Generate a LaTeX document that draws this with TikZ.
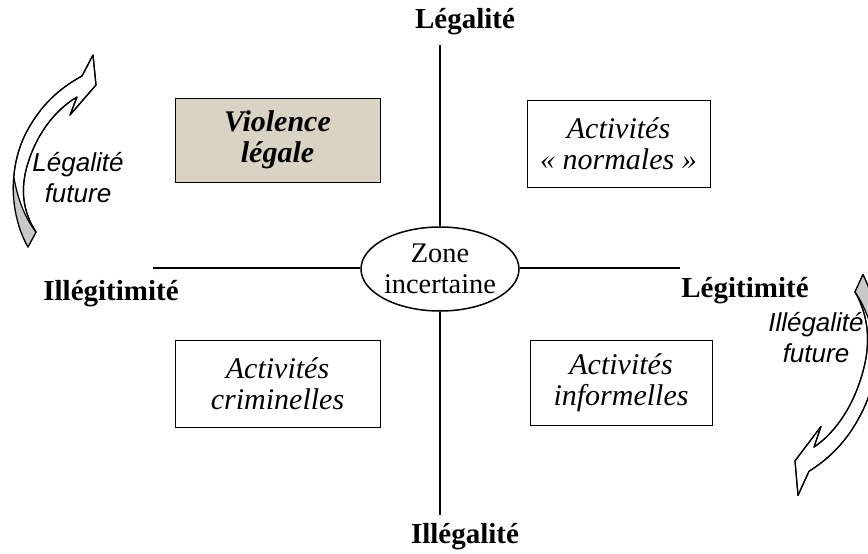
\documentclass[tikz,border=0pt]{standalone}
\usepackage{fontspec}
\setmainfont{Liberation Serif}
\newfontfamily\arialfont{Liberation Sans}
\usetikzlibrary{shapes.geometric}
\definecolor{beige}{RGB}{218,210,195}
\definecolor{backgray}{RGB}{200,200,200}
\begin{document}
\begin{tikzpicture}[x=0.5pt,y=-0.5pt,
  txt/.style={font=\fontsize{14.2}{15.5}\selectfont, align=center},
  quad/.style={draw, line width=0.5pt, inner sep=0pt, align=center,
    font=\fontsize{15}{15.5}\selectfont\itshape},
  axisline/.style={line width=1pt},
  axislabel/.style={font=\fontsize{14.5}{15.5}\selectfont\bfseries},
  sidelabel/.style={font=\fontsize{13}{15.5}\selectfont\arialfont\itshape, align=center},
  arrowface/.style={fill=white, draw, line width=0.6pt, line join=round},
  arrowback/.style={fill=backgray}
]
\useasboundingbox (0,0) rectangle (868,553);

% centre
\node[draw, ellipse, line width=0.75pt, minimum width=79pt, minimum height=42pt,
  inner sep=0pt] (zone) at (440,269) {};
\node[txt, inner sep=0pt] (zonetext) at (zone.center) {Zone\\incertaine};

% axes
\coordinate (top) at (440,45);
\coordinate (bottom) at (440,515);
\coordinate (left) at (153,268);
\coordinate (right) at (680,268);
\draw[axisline] (top) -- (top |- zone.north);
\draw[axisline] (bottom |- zone.south) -- (bottom);
\draw[axisline] (left) -- (left -| zone.west);
\draw[axisline] (right -| zone.east) -- (right);

% axis labels
\node[axislabel] (legalite) at (465,22) {Légalité};
\node[axislabel] (illegalite) at (465,537) {Illégalité};
\node[axislabel] (illegitimite) at (111,294) {Illégitimité};
\node[axislabel] (legitimite) at (745,291) {Légitimité};

% quadrant boxes
\node[quad, fill=beige, minimum width=102.5pt, minimum height=42pt,
  font=\fontsize{15}{15.5}\selectfont\bfseries\itshape] (violence) at (277.5,140) {Violence\\légale};
\node[quad, minimum width=91.5pt, minimum height=43.5pt] (normales) at (618.5,143.5) {Activités\\« normales »};
\node[quad, minimum width=102.5pt, minimum height=43.5pt] (criminelles) at (277.5,383.5) {Activités\\criminelles};
\node[quad, minimum width=91pt, minimum height=42.5pt] (informelles) at (621,382.5) {Activités\\informelles};

% left curved arrow
\begin{scope}
  \path[arrowface] (28,247) .. controls (10,215) and (8,170) .. (25,135)
    .. controls (40,105) and (60,88) .. (82,76) -- (93,55) -- (96,85) -- (70,115) -- (77,97)
    .. controls (55,110) and (35,135) .. (26,170) .. controls (20,195) and (25,215) .. (36,232) -- cycle;
  \path[arrowback] (28,247) .. controls (14,222) and (11,200) .. (14,178)
    .. controls (18,200) and (25,218) .. (36,232) -- cycle;
  \draw[line width=0.6pt, line join=round] (28,247) .. controls (10,215) and (8,170) .. (25,135)
    .. controls (40,105) and (60,88) .. (82,76) -- (93,55) -- (96,85) -- (70,115) -- (77,97)
    .. controls (55,110) and (35,135) .. (26,170) .. controls (20,195) and (25,215) .. (36,232) -- cycle;
  \draw[line width=0.6pt] (14,178) .. controls (18,200) and (25,218) .. (36,232);
\end{scope}
\node[sidelabel] (legfut) at (78,178) {Légalité\\future};

% right curved arrow (rotated copy)
\begin{scope}[shift={(891,558.65)}, xscale=-1, yscale=-1.15]
  \path[arrowface] (28,247) .. controls (10,215) and (8,170) .. (25,135)
    .. controls (40,105) and (60,88) .. (82,76) -- (93,55) -- (96,85) -- (70,115) -- (77,97)
    .. controls (55,110) and (35,135) .. (26,170) .. controls (20,195) and (25,215) .. (36,232) -- cycle;
  \path[arrowback] (28,247) .. controls (14,222) and (11,200) .. (14,178)
    .. controls (18,200) and (25,218) .. (36,232) -- cycle;
  \draw[line width=0.6pt, line join=round] (28,247) .. controls (10,215) and (8,170) .. (25,135)
    .. controls (40,105) and (60,88) .. (82,76) -- (93,55) -- (96,85) -- (70,115) -- (77,97)
    .. controls (55,110) and (35,135) .. (26,170) .. controls (20,195) and (25,215) .. (36,232) -- cycle;
  \draw[line width=0.6pt] (14,178) .. controls (18,200) and (25,218) .. (36,232);
\end{scope}
\node[sidelabel] (illegfut) at (816,338) {Illégalité\\future};
\end{tikzpicture}
\end{document}
